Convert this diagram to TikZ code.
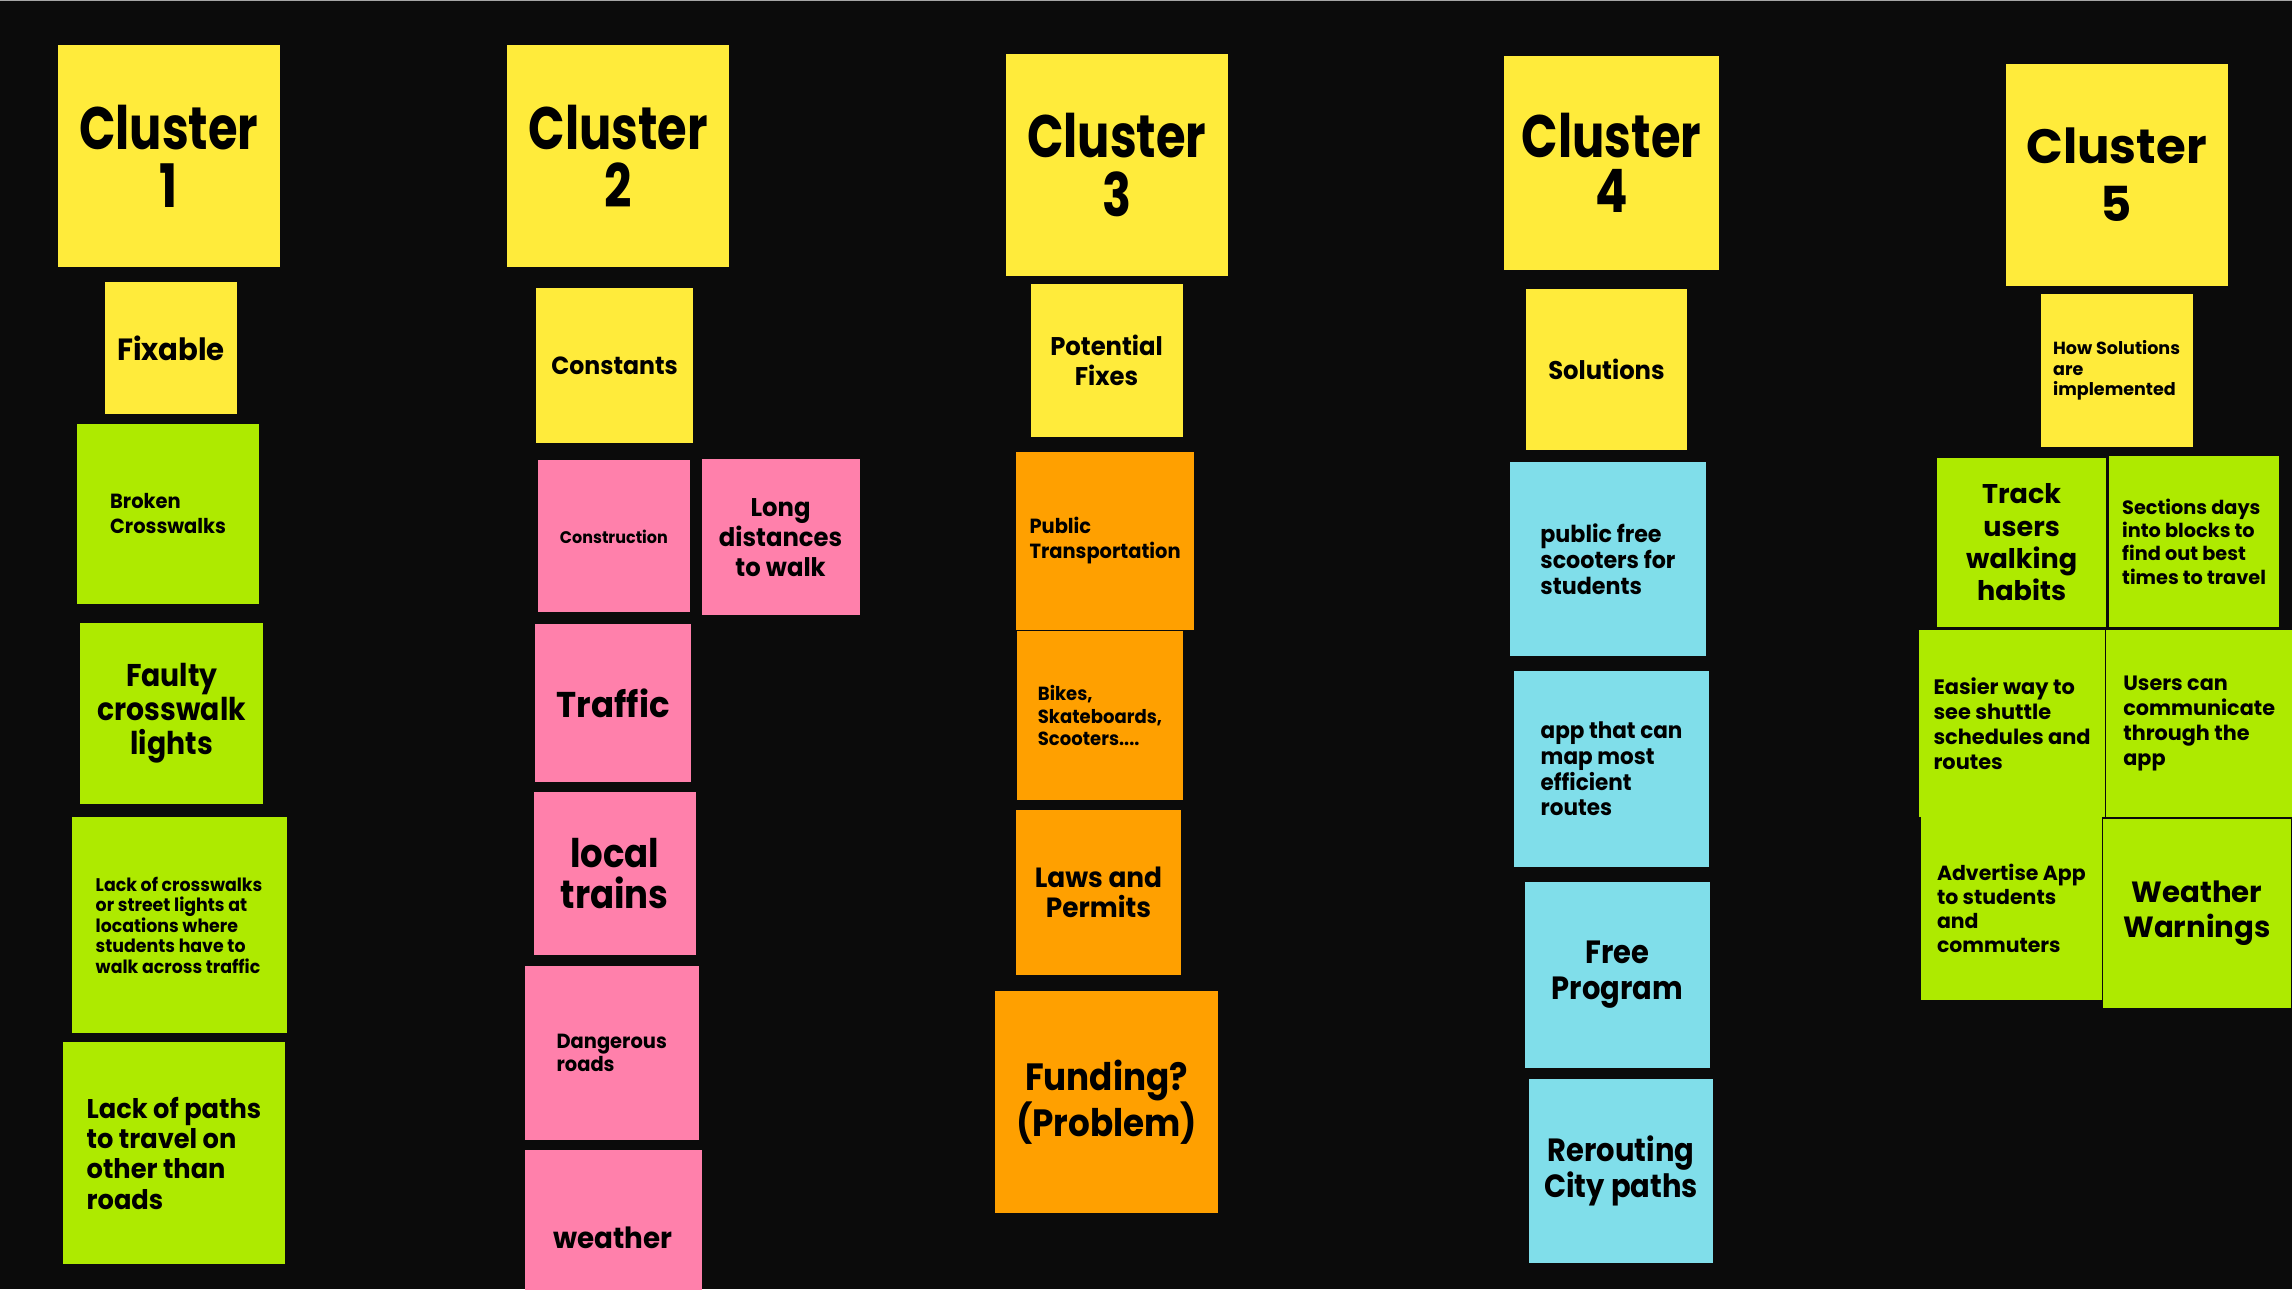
\documentclass[tikz,border=0pt]{standalone}
\usepackage{fontspec}
\setmainfont{Poppins}
\newfontfamily\cond{Poppins}[FakeStretch=0.8]
\newfontfamily\semicond{Poppins}[FakeStretch=0.9]
\newfontfamily\slim{Poppins}[FakeStretch=0.95]
\newcommand{\fsz}[2]{\fontsize{#1}{#2}\selectfont}
\definecolor{noteyellow}{HTML}{FFEB3B}
\definecolor{notelime}{HTML}{AEEA00}
\definecolor{notepink}{HTML}{FF80AB}
\definecolor{noteorange}{HTML}{FFA000}
\definecolor{notecyan}{HTML}{80DEEA}
\definecolor{board}{HTML}{0B0B0B}
\tikzset{
  note/.style={inner sep=0pt, text=black},
  yel/.style={note, fill=noteyellow},
  lime/.style={note, fill=notelime},
  pink/.style={note, fill=notepink},
  orng/.style={note, fill=noteorange},
  cyan/.style={note, fill=notecyan},
  sz/.style 2 args={minimum width=#1pt, minimum height=#2pt},
  cluster/.style={yel, sz={152}{152}, align=center}
}
\begin{document}
\begin{tikzpicture}[x=1pt, y=-1pt]
\fill[board] (0,0) rectangle (1568,882);
\fill[gray!70] (0,0) rectangle (1568,1);
\useasboundingbox (0,0) rectangle (1568,882);
% cluster 1
\node [cluster, font=\cond\bfseries\fsz{41}{40}] (c1) at (115.5,107) {Cluster\\1};
\node [yel, sz={90}{90}, font=\slim\bfseries\fsz{21}{24}] (fix) at (117,238) {Fixable};
\node [lime, sz={124}{123}, align=left, font=\slim\bfseries\fsz{14}{17}] (brk) at (115,351.5) {Broken\\Crosswalks};
\node [lime, sz={125}{124}, align=center, font=\semicond\bfseries\fsz{21.5}{23.5}] (flt) at (117.5,488) {Faulty\\crosswalk\\lights};
\node [lime, sz={147}{148}, align=left, font=\slim\bfseries\fsz{12.5}{14}] (lcw) at (122.5,633) {Lack of crosswalks\\or street lights at\\locations where\\students have to\\walk across traffic};
\node [lime, sz={152}{152}, align=left, font=\slim\bfseries\fsz{18.5}{20.7}] (lpt) at (119,789) {Lack of paths\\to travel on\\other than\\roads};
% cluster 2
\node [cluster, font=\cond\bfseries\fsz{41}{40}] (c2) at (423,107) {Cluster\\2};
\node [yel, sz={107}{106}, font=\slim\bfseries\fsz{17}{20}] (cst) at (420.5,250) {Constants};
\node [pink, sz={104}{104}, font=\slim\bfseries\fsz{11.5}{13}] (con) at (420,367) {Construction};
\node [pink, sz={108}{107}, align=center, font=\slim\bfseries\fsz{17.5}{20.5}] (lng) at (534,367.5) {Long\\distances\\to walk};
\node [pink, sz={107}{108}, font=\slim\bfseries\fsz{24.5}{28}] (trf) at (419.5,481) {Traffic};
\node [pink, sz={111}{111}, align=center, font=\semicond\bfseries\fsz{27}{28}] (loc) at (420.5,597.5) {local\\trains};
\node [pink, sz={119}{119}, align=left, font=\slim\bfseries\fsz{14}{16}] (dng) at (418.5,720.5) {Dangerous\\roads};
\node [pink, sz={121}{120}, font=\slim\bfseries\fsz{20}{23}] (wth) at (419.5,847) {weather};
% cluster 3
\node [cluster, font=\cond\bfseries\fsz{41}{40}] (c3) at (764,113) {Cluster\\3};
\node [yel, sz={104}{105}, align=center, font=\slim\bfseries\fsz{17.5}{20}] (pot) at (757,246.5) {Potential\\Fixes};
\node [orng, sz={122}{122}, align=left, font=\slim\bfseries\fsz{14}{17}] (pub) at (756,370) {Public\\Transportation};
\node [orng, sz={113}{115}, align=left, font=\slim\bfseries\fsz{13}{15.5}] (bik) at (752.5,489.5) {Bikes,\\Skateboards,\\Scooters....};
\node [orng, sz={113}{113}, align=center, font=\slim\bfseries\fsz{19}{21}] (law) at (751.5,610.5) {Laws and\\Permits};
\node [orng, sz={152}{152}, align=center, font=\semicond\bfseries\fsz{26}{28}] (fnd) at (757,754) {Funding?\\(Problem)};
% cluster 4
\node [yel, sz={147}{147}, align=center, font=\cond\bfseries\fsz{41}{38}] (c4) at (1102.5,111.5) {Cluster\\4};
\node [yel, sz={110}{110}, font=\slim\bfseries\fsz{17.5}{20}] (sol) at (1099,253) {Solutions};
\node [cyan, sz={134}{133}, align=left, font=\slim\bfseries\fsz{16}{18}] (pfs) at (1100,382.5) {public free\\scooters for\\students};
\node [cyan, sz={133}{134}, align=left, font=\slim\bfseries\fsz{15.5}{17.7}] (app) at (1102.5,526) {app that can\\map most\\efficient\\routes};
\node [cyan, sz={127}{127}, align=center, font=\semicond\bfseries\fsz{22}{24.5}] (frp) at (1106.5,667) {Free\\Program};
\node [cyan, sz={126}{126}, align=center, font=\semicond\bfseries\fsz{22}{24}] (rer) at (1109,801) {Rerouting\\City paths};
% cluster 5
\node [cluster, font=\bfseries\fsz{33}{40}] (c5) at (1448,119.5) {Cluster\\5};
\node [yel, sz={104}{105}, align=left, font=\bfseries\fsz{12}{14}] (how) at (1448,253.5) {How Solutions\\are\\implemented};
\node [lime, sz={116}{116}, align=center, font=\bfseries\fsz{18.5}{22}] (trk) at (1383,371) {Track\\users\\walking\\habits};
\node [lime, sz={116}{117}, align=left, font=\bfseries\fsz{13.2}{16}] (sec) at (1501,370.5) {Sections days\\into blocks to\\find out best\\times to travel};
\node [lime, sz={127}{128}, align=left, font=\bfseries\fsz{14.3}{17}] (eas) at (1376.5,495) {Easier way to\\see shuttle\\schedules and\\routes};
\node [lime, sz={127}{128}, align=left, font=\bfseries\fsz{14.2}{17}] (usr) at (1504.5,495) {Users can\\communicate\\through the\\app};
\node [lime, sz={124}{125}, align=left, font=\bfseries\fsz{14}{16.5}] (adv) at (1376,621.5) {Advertise App\\to students\\and\\commuters};
\node [lime, sz={128}{129}, align=center, font=\bfseries\fsz{20}{24}] (wwn) at (1503,625) {Weather\\Warnings};
\end{tikzpicture}
\end{document}
